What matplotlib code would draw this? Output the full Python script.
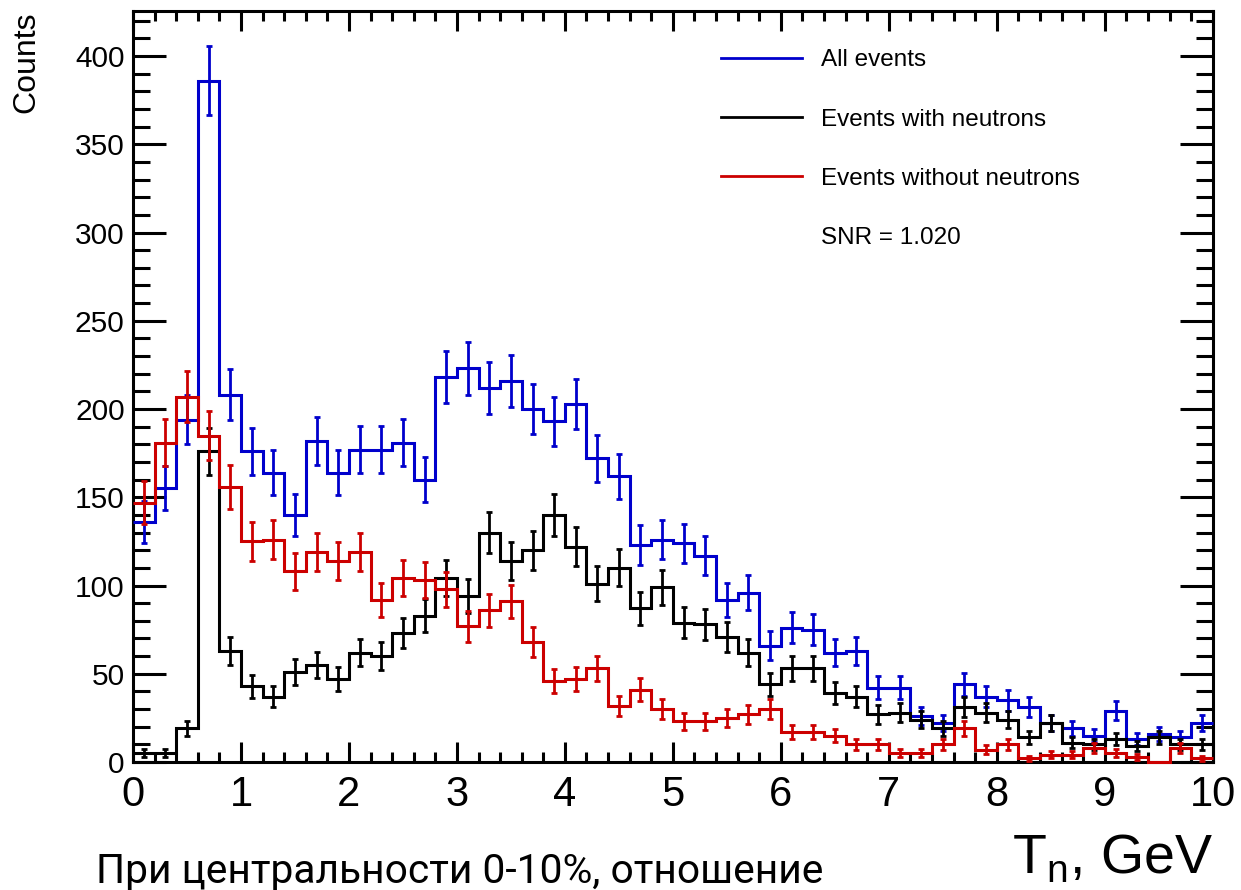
import matplotlib
matplotlib.use("Agg")
import matplotlib.pyplot as plt
import numpy as np
from matplotlib.lines import Line2D
from matplotlib.ticker import MultipleLocator

# Histogram binning: 50 bins of 0.2 GeV
bin_edges = np.linspace(0, 10, 51)

# Counts per bin
all_events = [136, 155, 194, 386, 208, 176, 164, 140, 182, 164,
              177, 177, 181, 160, 218, 223, 212, 216, 200, 193,
              203, 172, 162, 123, 126, 124, 117, 92, 96, 66,
              76, 75, 62, 63, 42, 42, 26, 22, 44, 37,
              35, 31, 22, 19, 15, 29, 13, 16, 14, 22]
with_neutrons = [5, 5, 19, 176, 63, 43, 37, 51, 55, 47,
                 62, 60, 73, 83, 104, 94, 130, 114, 120, 140,
                 122, 101, 110, 87, 99, 79, 78, 71, 62, 44,
                 53, 53, 39, 37, 27, 28, 24, 19, 31, 28,
                 24, 14, 22, 11, 10, 13, 9, 14, 10, 10]
without_neutrons = [147, 181, 207, 185, 156, 125, 126, 108, 119, 114,
                    119, 92, 104, 103, 98, 77, 86, 91, 68, 46,
                    47, 53, 32, 41, 30, 23, 23, 25, 27, 30,
                    17, 17, 15, 10, 10, 5, 5, 10, 19, 7,
                    10, 2, 4, 4, 8, 5, 3, 0, 8, 2]

series = [
    ("All events", all_events, "#0000cc"),
    ("Events with neutrons", with_neutrons, "black"),
    ("Events without neutrons", without_neutrons, "#cc0000"),
]
snr_text = "SNR = 1.020"

plt.rcParams['font.family'] = ['Liberation Sans', 'DejaVu Sans']

fig = plt.figure(figsize=(12.41, 8.90), dpi=100)
ax = fig.add_axes([0.1072, 0.1438, 0.8700, 0.8438])

centers = 0.5 * (bin_edges[:-1] + bin_edges[1:])
handles = []
for i, (label, counts, color) in enumerate(series):
    counts = np.array(counts, dtype=float)
    ax.stairs(counts, bin_edges, baseline=None, color=color, lw=2.2,
              zorder=3 + i, clip_on=False)
    ax.errorbar(centers, counts, yerr=np.sqrt(counts), fmt='none',
                ecolor=color, elinewidth=2.0, capsize=2.5, capthick=2.0,
                zorder=3 + i)
    handles.append(Line2D([], [], color=color, lw=2.0, label=label))
handles.append(Line2D([], [], color='none', label=snr_text))

ax.set_xlim(0, 10)
ax.set_ylim(0, 425.5)

ax.xaxis.set_major_locator(MultipleLocator(1))
ax.xaxis.set_minor_locator(MultipleLocator(0.2))
ax.yaxis.set_major_locator(MultipleLocator(50))
ax.yaxis.set_minor_locator(MultipleLocator(10))

ax.tick_params(axis='both', which='both', direction='in', top=True, right=True, width=2.2)
ax.tick_params(axis='x', which='major', length=14.5, labelsize=30, pad=9)
ax.tick_params(axis='x', which='minor', length=7)
ax.tick_params(axis='y', which='major', length=24, labelsize=21.5, pad=6)
ax.tick_params(axis='y', which='minor', length=12)
for sp in ax.spines.values():
    sp.set_linewidth(2.2)

ax.set_ylabel("Counts", fontsize=23)
ax.yaxis.set_label_coords(-0.085, 1.0)
ax.yaxis.label.set_horizontalalignment('right')

fig.text(0.9772, 0.019, r"T$_\mathregular{n}$, GeV", fontsize=40, ha='right', va='baseline')

fig.text(0.077, 0.008, "При центральности 0-10%, отношение",
         fontsize=29.3, ha='left', va='baseline',
         family=['Roboto', 'Liberation Sans', 'DejaVu Sans'])

ax.legend(handles=handles, loc='upper left', bbox_to_anchor=(0.545, 0.949),
          frameon=False, fontsize=17.5, handlelength=3.3, handletextpad=0.78,
          labelspacing=1.53, borderpad=0, borderaxespad=0)

fig.savefig("out.png", dpi=100)
